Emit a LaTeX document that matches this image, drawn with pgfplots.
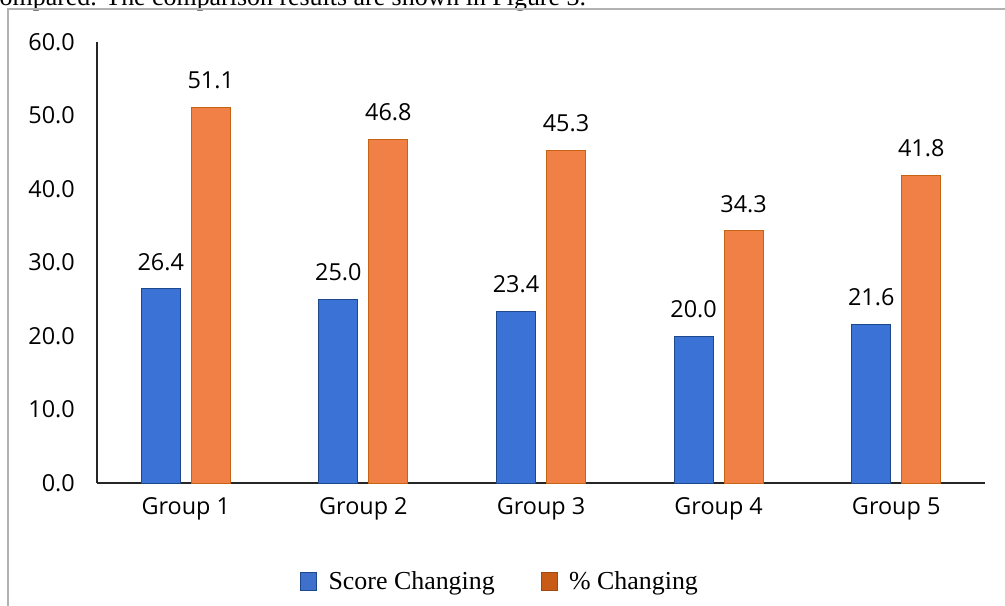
\documentclass[border=0pt]{standalone}
\usepackage{fontspec}
\setmainfont{Open Sans}
\newfontfamily\serif{Liberation Serif}
\usepackage{pgfplots}
\pgfplotsset{compat=1.18}
\definecolor{barblue}{RGB}{58,114,214}
\definecolor{edgeblue}{RGB}{30,72,140}
\definecolor{barorange}{RGB}{240,128,70}
\definecolor{edgeorange}{RGB}{196,100,20}
\definecolor{legorange}{RGB}{200,92,22}
\definecolor{legblue}{RGB}{62,112,204}

\begin{document}
\begin{tikzpicture}
\useasboundingbox (-97bp,-123bp) rectangle (908bp,483bp);
\clip (-97bp,-123bp) rectangle (908bp,483bp);
\node[anchor=base west, inner sep=0pt, font=\serif\fontsize{26}{30}\selectfont] at (-109bp,477bp) {compared. The comparison results are shown in Figure 3.};
\draw[black!30, line width=1.5bp] (-89bp,-140bp) -- (-89bp,474bp) -- (930bp,474bp);
\begin{axis}[
  width=888bp, height=441bp, scale only axis,
  xmin=-0.5, xmax=4.5, ymin=0, ymax=60,
  ybar, bar width=39bp,
  axis lines*=left,
  x axis line style={line width=2.2bp, black!85},
  y axis line style={line width=1.6bp, black!85},
  major tick length=0pt,
  xtick={0,1,2,3,4},
  xticklabels={Group 1,Group 2,\raisebox{-4bp}{Group 3},\raisebox{-4bp}{Group 4},\raisebox{-9bp}{Group 5}},
  ytick={0,10,20,30,40,50,60},
  tick label style={font=\fontsize{23.5}{28}\selectfont, black},
  yticklabel style={inner sep=0pt, xshift=-22bp, /pgf/number format/fixed, /pgf/number format/fixed zerofill, /pgf/number format/precision=1, /pgf/number format/assume math mode=true},
  xticklabel style={inner sep=0pt, yshift=-14bp},
  nodes near coords,
  nodes near coords style={font=\fontsize{23.5}{28}\selectfont, black, inner sep=0pt, yshift=18bp,
    /pgf/number format/fixed, /pgf/number format/fixed zerofill, /pgf/number format/precision=1, /pgf/number format/assume math mode=true},
  legend columns=2,
  legend image code/.code={\draw[#1, line width=0.8bp] (0bp,-9bp) rectangle (16bp,9bp); \path[draw=none,fill=none] (0bp,0bp) rectangle (26bp,0.1bp);},
  legend style={font=\serif\fontsize{26}{30}\selectfont, draw=none, fill=none, inner sep=0pt,
    at={(0.2286,-0.2234)}, anchor=west,
    /tikz/every even column/.append style={column sep=44bp}},
]
\addplot[forget plot, bar shift=-25bp, fill=barblue, draw=edgeblue, line width=1bp] coordinates {(0,26.4) (1,25.0) (2,23.4) (3,20.0) (4,21.6)};
\addplot[forget plot, bar shift=25bp, fill=barorange, draw=edgeorange, line width=1bp] coordinates {(0,51.1) (1,46.8) (2,45.3) (3,34.3) (4,41.8)};
\addlegendimage{fill=legblue, draw=edgeblue}
\addlegendentry{Score Changing}
\addlegendimage{fill=legorange, draw=legorange!80!black}
\addlegendentry{\% Changing}
\end{axis}
\end{tikzpicture}
\end{document}
